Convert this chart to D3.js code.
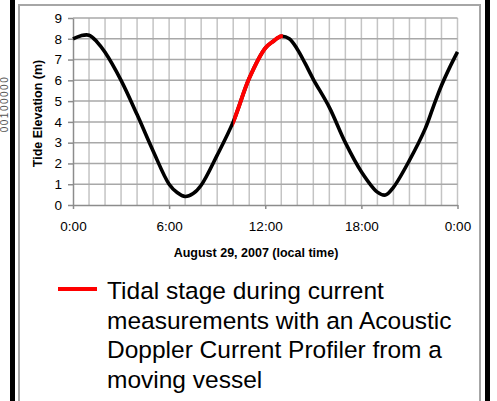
<!DOCTYPE html>
<html>
<head>
<meta charset="utf-8">
<script src="https://cdn.jsdelivr.net/npm/d3@7/dist/d3.min.js"></script>
<style>
  html, body { margin: 0; padding: 0; background: #ffffff; }
  svg { display: block; }
  text { font-family: "Liberation Sans", Arial, sans-serif; }
</style>
</head>
<body>
<svg id="chart" width="497" height="401"></svg>
<script>
// Tide elevation, August 29, 2007 (hours after local midnight, metres)
const hours = [0, 0.5, 1, 1.5, 2, 3, 4, 5, 6, 6.5, 7, 7.5, 8, 9, 10, 11, 12, 12.5, 13, 13.5, 14, 14.5, 15, 16, 17, 18, 19, 19.5, 20, 21, 22, 22.5, 23, 23.5, 24];
const elevation = [8.0, 8.15, 8.17, 7.85, 7.35, 6.0, 4.35, 2.6, 1.0, 0.6, 0.41, 0.55, 0.95, 2.4, 4.0, 6.1, 7.55, 7.88, 8.12, 8.0, 7.5, 6.8, 6.05, 4.7, 3.0, 1.6, 0.62, 0.48, 0.85, 2.15, 3.7, 4.75, 5.75, 6.6, 7.37];

// ADCP measurement window (hours)
const measurementWindow = [10, 13.1];

const xTicks = [0, 6, 12, 18, 24];
const xTickLabels = ["0:00", "6:00", "12:00", "18:00", "0:00"];
const yTicks = [0, 1, 2, 3, 4, 5, 6, 7, 8, 9];

const legendLines = [
  "Tidal stage during current",
  "measurements with an Acoustic",
  "Doppler Current Profiler from a",
  "moving vessel"
];

const svg = d3.select("#chart");

// Slide frame
svg.append("rect").attr("x", 10).attr("y", 0).attr("width", 5).attr("height", 401).attr("fill", "#000");
svg.append("rect").attr("x", 485).attr("y", 0).attr("width", 5).attr("height", 401).attr("fill", "#000");
svg.append("path")
  .attr("d", "M19,401 V5 H480 V401")
  .attr("fill", "none").attr("stroke", "#a6a6a6").attr("stroke-width", 2);

// Neighbouring label at the far left edge
svg.append("text")
  .attr("transform", "translate(8,104) rotate(-90)")
  .attr("text-anchor", "middle")
  .attr("font-size", 10)
  .attr("letter-spacing", 1.5)
  .attr("fill", "#555")
  .text("00100000");

const x = d3.scaleLinear().domain([0, 24]).range([73, 457.5]);
const y = d3.scaleLinear().domain([0, 9]).range([205, 18]);

const data = hours.map((h, i) => ({ h, v: elevation[i] }));

// Grid
const grid = svg.append("g");
grid.selectAll("line.v")
  .data(d3.range(1, 25))
  .join("line")
  .attr("x1", d => x(d)).attr("x2", d => x(d))
  .attr("y1", y(0)).attr("y2", y(9))
  .attr("stroke", "#c4c4c4").attr("stroke-width", 1.5);
grid.selectAll("line.h")
  .data(d3.range(1, 10))
  .join("line")
  .attr("x1", x(0)).attr("x2", x(24))
  .attr("y1", d => y(d)).attr("y2", d => y(d))
  .attr("stroke", "#a8a8a8").attr("stroke-width", 1.5);

// Axes
const xAxis = d3.axisBottom(x)
  .tickValues(xTicks)
  .tickFormat((d, i) => xTickLabels[i])
  .tickSizeInner(4).tickSizeOuter(0).tickPadding(12);
const gx = svg.append("g").attr("transform", `translate(0,${y(0)})`).call(xAxis);

const yAxis = d3.axisLeft(y)
  .tickValues(yTicks)
  .tickFormat(d3.format("d"))
  .tickSizeInner(5).tickSizeOuter(0).tickPadding(6);
const gy = svg.append("g").attr("transform", `translate(${x(0)},0)`).call(yAxis);

[gx, gy].forEach(g => {
  g.select(".domain").attr("stroke", "#8c8c8c").attr("stroke-width", 1.5);
  g.selectAll(".tick line").attr("stroke", "#8c8c8c").attr("stroke-width", 1.5);
  g.selectAll(".tick text")
    .attr("font-family", "'Liberation Sans', Arial, sans-serif")
    .attr("font-size", 13.5)
    .attr("fill", "#000");
});

// Axis titles
svg.append("text")
  .attr("x", 256).attr("y", 257)
  .attr("text-anchor", "middle")
  .attr("font-size", 12.5).attr("font-weight", "bold")
  .text("August 29, 2007 (local time)");
svg.append("text")
  .attr("transform", "translate(41.5,113.5) rotate(-90)")
  .attr("text-anchor", "middle")
  .attr("font-size", 12.5).attr("font-weight", "bold")
  .text("Tide Elevation (m)");

// Tide curve
const line = d3.line()
  .x(d => x(d.h))
  .y(d => y(d.v))
  .curve(d3.curveCatmullRom.alpha(0.5));

svg.append("path")
  .datum(data)
  .attr("d", line)
  .attr("fill", "none")
  .attr("stroke", "#000")
  .attr("stroke-width", 3.6)
  .attr("stroke-linejoin", "round");

// Measurement window: same curve, clipped to the window's time span
svg.append("clipPath").attr("id", "window-clip")
  .append("rect")
  .attr("x", x(measurementWindow[0]))
  .attr("y", 0)
  .attr("width", x(measurementWindow[1]) - x(measurementWindow[0]))
  .attr("height", 401);

svg.append("path")
  .datum(data)
  .attr("d", line)
  .attr("clip-path", "url(#window-clip)")
  .attr("fill", "none")
  .attr("stroke", "#ff0000")
  .attr("stroke-width", 4)
  .attr("stroke-linejoin", "round");

// Legend
svg.append("line")
  .attr("x1", 58).attr("x2", 97)
  .attr("y1", 289).attr("y2", 289)
  .attr("stroke", "#ff0000").attr("stroke-width", 4);

svg.append("g").selectAll("text")
  .data(legendLines)
  .join("text")
  .attr("x", 107)
  .attr("y", (d, i) => 299 + i * 29.7)
  .attr("font-size", 24.5)
  .attr("fill", "#000")
  .text(d => d);
</script>
</body>
</html>
